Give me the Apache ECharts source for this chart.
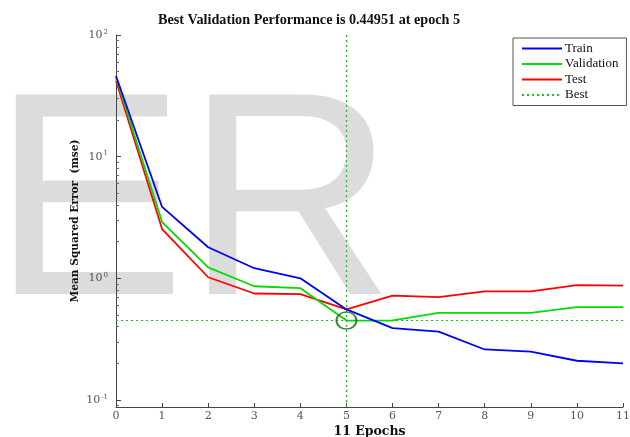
<!DOCTYPE html>
<html>
<head>
<meta charset="utf-8">
<script src="https://cdn.jsdelivr.net/npm/echarts@6/dist/echarts.min.js"></script>
<style>html,body{margin:0;padding:0;background:#fff}#c{width:630px;height:437px}</style>
</head>
<body>
<div id="c"></div>
<script>
const epochs = [0,1,2,3,4,5,6,7,8,9,10,11];
const train = [46, 3.86, 1.80, 1.21, 1.0, 0.555, 0.39, 0.365, 0.26, 0.25, 0.21, 0.20];
const validation = [45, 2.9, 1.23, 0.86, 0.83, 0.44951, 0.45, 0.52, 0.52, 0.52, 0.58, 0.58];
const test = [42, 2.54, 1.02, 0.75, 0.74, 0.555, 0.72, 0.70, 0.78, 0.78, 0.88, 0.87];
const bestEpoch = 5;
const bestPerf = 0.44951;
const titleText = 'Best Validation Performance is 0.44951 at epoch 5';
const xName = '11 Epochs';
const yName = 'Mean Squared Error  (mse)';

const pairs = arr => epochs.map((e, i) => [e, arr[i]]);
const serif = '"DejaVu Serif", "Liberation Serif", serif';
const lserif = '"Liberation Serif", "DejaVu Serif", serif';
const bestColor = '#22bb22';

const chart = echarts.init(document.getElementById('c'));
chart.setOption({
  animation: false,
  backgroundColor: '#fff',
  graphic: [{
    type: 'text', z: -10, left: -8, top: 69, silent: true,
    style: { text: 'ER', font: '290px "Liberation Sans", Arial, sans-serif', fill: '#dcdcdc' }
  }],
  title: {
    text: titleText, left: 158, top: 13, padding: 0,
    textStyle: { fontFamily: lserif, fontWeight: 'bold', fontSize: 14.2, color: '#111' }
  },
  grid: { left: 116, right: 7, top: 35, bottom: 30, containLabel: false, outerBoundsMode: 'none' },
  legend: {
    orient: 'vertical', left: 513, top: 38,
    padding: [4, 8, 4, 8], itemWidth: 40, itemHeight: 10, itemGap: 2.5,
    backgroundColor: '#fff', borderColor: '#555', borderWidth: 1,
    itemStyle: { opacity: 0 },
    textStyle: { fontFamily: lserif, fontSize: 13, lineHeight: 12, color: '#111', padding: [0,0,0,-2] },
    data: ['Train', 'Validation', 'Test', 'Best']
  },
  xAxis: {
    type: 'value', min: 0, max: 11, interval: 1,
    name: xName, nameLocation: 'middle', nameGap: 18, nameMoveOverlap: false,
    nameTextStyle: { fontFamily: serif, fontWeight: 'bold', fontSize: 12.5, color: '#111' },
    axisLine: { lineStyle: { color: '#444', width: 1 } },
    axisTick: { inside: true, length: 4, lineStyle: { color: '#444' } },
    axisLabel: { fontFamily: serif, fontSize: 11, color: '#555', margin: 4 },
    splitLine: { show: false }
  },
  yAxis: {
    type: 'log', logBase: 10, min: 0.0875, max: 100,
    name: yName, nameLocation: 'middle', nameGap: 35, nameRotate: 90, nameMoveOverlap: false,
    nameTextStyle: { fontFamily: serif, fontWeight: 'bold', fontSize: 10.6, color: '#111' },
    axisLine: { show: true, lineStyle: { color: '#444', width: 1 } },
    axisTick: { show: true, inside: true, length: 5, lineStyle: { color: '#444' } },
    minorTick: { show: true, splitNumber: 9, length: 3, lineStyle: { color: '#666' } },
    axisLabel: {
      margin: 8, showMinLabel: false,
      formatter: v => {
        const l = Math.log10(v), e = Math.round(l);
        if (Math.abs(l - e) > 1e-6) return '';
        return '{b|10}{s|' + e + '}';
      },
      rich: {
        b: { fontFamily: serif, fontSize: 11, color: '#555' },
        s: { fontFamily: serif, fontSize: 7, color: '#555', verticalAlign: 'top', padding: [0,0,6,1] }
      }
    },
    splitLine: { show: false }
  },
  series: [
    { name: 'Train', type: 'line', data: pairs(train), symbol: 'none', z: 5,
      lineStyle: { color: '#0000ff', width: 1.8 }, itemStyle: { color: '#0000ff' } },
    { name: 'Validation', type: 'line', data: pairs(validation), symbol: 'none', z: 4,
      lineStyle: { color: '#00dd00', width: 1.8 }, itemStyle: { color: '#00dd00' } },
    { name: 'Test', type: 'line', data: pairs(test), symbol: 'none', z: 3,
      lineStyle: { color: '#ff0000', width: 1.8 }, itemStyle: { color: '#ff0000' } },
    { name: 'Best', type: 'line', data: [], symbol: 'none', z: 2, color: bestColor,
      lineStyle: { color: bestColor, width: 1.2, type: [2, 3] }, itemStyle: { color: bestColor },
      markLine: {
        silent: true, symbol: 'none', label: { show: false },
        itemStyle: { color: bestColor },
        lineStyle: { color: bestColor, width: 1.2, type: [2, 3], opacity: 1 },
        emphasis: { disabled: true },
        data: [{ xAxis: bestEpoch }, { yAxis: bestPerf }]
      } },
    { name: 'bestPoint', type: 'scatter', data: [[bestEpoch, bestPerf]], z: 6,
      symbol: 'circle', symbolSize: [20, 17],
      itemStyle: { color: 'rgba(0,0,0,0)', borderColor: '#0b6b0b', borderWidth: 1.8 } }
  ]
});
</script>
</body>
</html>
